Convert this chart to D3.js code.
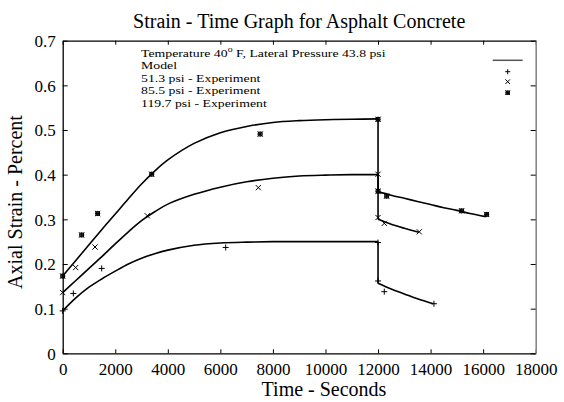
<!DOCTYPE html>
<html><head><meta charset="utf-8">
<script src="https://cdn.jsdelivr.net/npm/d3@7"></script>
<style>body{margin:0;background:#fff}svg{display:block}text{font-family:"Liberation Serif","Times New Roman",serif;fill:#000}</style>
</head><body>
<svg id="c" width="564" height="402"></svg>
<script>
// ---- data ----
const xTicks = [0,2000,4000,6000,8000,10000,12000,14000,16000,18000];
const yTicks = [0,0.1,0.2,0.3,0.4,0.5,0.6,0.7];
const legendLines = ["Model","51.3 psi - Experiment","85.5 psi - Experiment","119.7 psi - Experiment"];

const loadTime = [0,500,1000,1500,2000,2500,3000,3500,4000,5000,6000,7000,8000,9000,10000,11000,12000];
const model51Load  = [0.095,0.124,0.148,0.167,0.184,0.200,0.213,0.223,0.231,0.242,0.247,0.249,0.250,0.250,0.250,0.250,0.250];
const model85Load  = [0.136,0.163,0.190,0.217,0.245,0.272,0.297,0.317,0.334,0.356,0.372,0.384,0.392,0.397,0.399,0.400,0.400];
const model119Load = [0.173,0.208,0.243,0.278,0.312,0.346,0.379,0.408,0.433,0.470,0.494,0.508,0.517,0.521,0.523,0.524,0.525];

const model51UnloadTime = [12000,12500,13000,13500,14100];
const model51Unload     = [0.157,0.144,0.133,0.122,0.111];
const model85UnloadTime = [12000,12500,13000,13550];
const model85Unload     = [0.300,0.289,0.280,0.271];
const model119UnloadTime = [12000,12500,13000,13500,14000,14500,15000,15500,16100];
const model119Unload     = [0.362,0.354,0.347,0.340,0.333,0.326,0.320,0.313,0.306];

const exp51Time = [0,405,1484,6202,12000,12000,12238,14128];
const exp51     = [0.095,0.134,0.190,0.237,0.248,0.162,0.138,0.111];
const exp85Time = [0,494,1229,3220,7444,12000,12000,12238,13570];
const exp85     = [0.136,0.192,0.238,0.308,0.371,0.401,0.304,0.291,0.272];
const exp119Time = [0,722,1331,3387,7514,12000,12000,12328,15182,16133];
const exp119     = [0.173,0.265,0.313,0.401,0.491,0.524,0.363,0.352,0.319,0.311];

// ---- layout ----
const svg = d3.select("#c");
const L = 62.7, R = 535.7, T = 40.7, B = 353.3;
const x = d3.scaleLinear().domain([0,18000]).range([L,R]);
const y = d3.scaleLinear().domain([0,0.7]).range([B,T]);

// title
svg.append("text").attr("x",(L+R)/2).attr("y",28).attr("text-anchor","middle")
  .attr("font-size",20).text("Strain - Time Graph for Asphalt Concrete");

// axes
const gx = svg.append("g").attr("transform",`translate(0,${B})`)
  .call(d3.axisBottom(x).tickValues(xTicks).tickFormat(d3.format("d")).tickSizeInner(-4).tickSizeOuter(0).tickPadding(10));
const gxt = svg.append("g").attr("transform",`translate(0,${T})`)
  .call(d3.axisTop(x).tickValues(xTicks).tickFormat("").tickSizeInner(-4).tickSizeOuter(0));
const gy = svg.append("g").attr("transform",`translate(${L},0)`)
  .call(d3.axisLeft(y).tickValues(yTicks).tickFormat(d=>d===0?"0":d3.format(".1f")(d)).tickSizeInner(-5).tickSizeOuter(0).tickPadding(7));
const gyr = svg.append("g").attr("transform",`translate(${R},0)`)
  .call(d3.axisRight(y).tickValues(yTicks).tickFormat("").tickSizeInner(-5).tickSizeOuter(0));
[gx,gxt,gy,gyr].forEach(g=>{
  g.selectAll("text").attr("font-size",17).attr("font-family","Liberation Serif, serif").attr("fill","#000");
  g.selectAll("line").attr("stroke","#000");
  g.select(".domain").attr("stroke","#000").attr("stroke-width",1.3);
});
gyr.select(".domain").attr("stroke","#888").attr("stroke-width",1.6);
gy.selectAll("text").attr("dy","0.35em");

// axis titles
svg.append("text").attr("x",324).attr("y",396).attr("text-anchor","middle").attr("font-size",20).text("Time - Seconds");
svg.append("text").attr("transform",`translate(22,202) rotate(-90)`).attr("text-anchor","middle").attr("font-size",20).text("Axial Strain - Percent");

// legend text (slightly wide glyphs, as in the reference)
const lg = svg.append("g").attr("transform","translate(141,0) scale(1.22,1)");
const leg = lg.append("text").attr("x",0).attr("y",57).attr("font-size",11.3);
leg.append("tspan").text("Temperature 40");
leg.append("tspan").attr("font-size",8).attr("dy",-4.5).text("o");
leg.append("tspan").attr("dy",4.5).text(" F, Lateral Pressure 43.8 psi");
legendLines.forEach((t,i)=>{
  lg.append("text").attr("x",0).attr("y",69.5+12.5*i).attr("font-size",11.3).text(t);
});

// model curves
const line = d3.line().x(d=>x(d[0])).y(d=>y(d[1])).curve(d3.curveCatmullRom.alpha(0.5));
const straight = d3.line().x(d=>x(d[0])).y(d=>y(d[1]));
const models = [
  [model51Load, model51UnloadTime, model51Unload],
  [model85Load, model85UnloadTime, model85Unload],
  [model119Load, model119UnloadTime, model119Unload]
];
const mg = svg.append("g").attr("fill","none").attr("stroke","#000").attr("stroke-width",1.6);
models.forEach(([ld,ut,uv])=>{
  const a = loadTime.map((t,i)=>[t,ld[i]]);
  const b = ut.map((t,i)=>[t,uv[i]]);
  mg.append("path").attr("d",line(a));
  mg.append("path").attr("d",straight([a[a.length-1],b[0]]));
  mg.append("path").attr("d",line(b));
});

// markers
function plus(g,cx,cy,s){g.append("path").attr("d",`M${cx-s},${cy}H${cx+s}M${cx},${cy-s}V${cy+s}`);}
function cross(g,cx,cy,s){g.append("path").attr("d",`M${cx-s},${cy-s}L${cx+s},${cy+s}M${cx-s},${cy+s}L${cx+s},${cy-s}`);}
function star(g,cx,cy,s){plus(g,cx,cy,s);cross(g,cx,cy,s);g.append("rect").attr("x",cx-s*0.7).attr("y",cy-s*0.7).attr("width",s*1.4).attr("height",s*1.4).attr("fill","none");}
const pg = svg.append("g").attr("fill","none").attr("stroke","#000").attr("stroke-width",1);
exp51Time.forEach((t,i)=>plus(pg,x(t),y(exp51[i]),3));
exp85Time.forEach((t,i)=>cross(pg,x(t),y(exp85[i]),2.6));
exp119Time.forEach((t,i)=>star(pg,x(t),y(exp119[i]),2.6));

// legend samples
svg.append("line").attr("x1",492.7).attr("x2",522.7).attr("y1",60.3).attr("y2",60.3).attr("stroke","#555").attr("stroke-width",1.5);
plus(pg,507.7,71.7,2.5);
cross(pg,507.7,81.7,2.3);
star(pg,507.7,92.7,2.3);
</script>
</body></html>
